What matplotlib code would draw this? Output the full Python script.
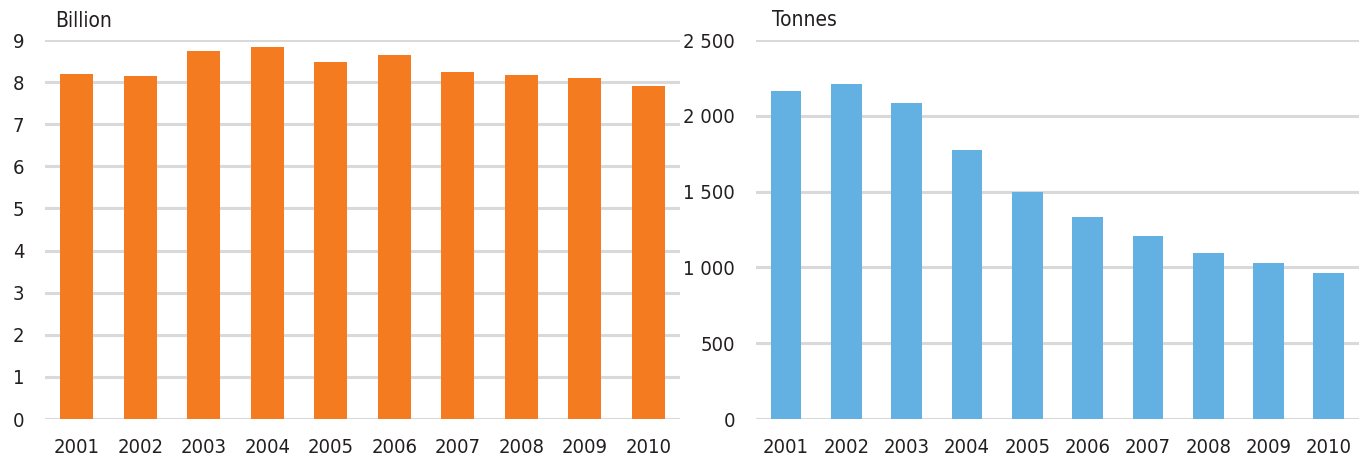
import matplotlib
matplotlib.use('Agg')
import matplotlib.pyplot as plt
from matplotlib.ticker import FuncFormatter

plt.rcParams['font.family'] = ['DejaVu Sans']
plt.rcParams['font.stretch'] = 'condensed'

years = ['2001', '2002', '2003', '2004', '2005', '2006', '2007', '2008', '2009', '2010']
billion = [8.20, 8.15, 8.74, 8.84, 8.48, 8.65, 8.24, 8.17, 8.10, 7.91]
tonnes = [2163, 2209, 2084, 1774, 1498, 1333, 1208, 1097, 1031, 965]

orange = '#f47b20'
blue = '#63b1e2'
grid_col = '#d9d9d9'
txt = '#231f20'

fig = plt.figure(figsize=(13.69, 4.59), dpi=100)
ax1 = fig.add_axes([0.0329, 0.0871, 0.4638, 0.8257])
ax2 = fig.add_axes([0.5522, 0.0871, 0.4405, 0.8257])


def style(ax):
    for s in ax.spines.values():
        s.set_visible(False)
    ax.set_axisbelow(True)
    ax.yaxis.grid(True, color=grid_col, linewidth=2.2)
    ax.tick_params(length=0, labelsize=14.5, colors=txt)
    ax.tick_params(axis='y', pad=15)
    ax.tick_params(axis='x', pad=14)
    ax.set_xlim(-0.5, len(years) - 0.5)


x = range(len(years))
ax1.bar(x, billion, width=0.52, color=orange)
ax1.set_ylim(0, 9)
ax1.set_yticks(range(0, 10))
ax1.set_xticks(list(x))
ax1.set_xticklabels(years)
style(ax1)
ax1.text(0.0157, 1.034, 'Billion', transform=ax1.transAxes, fontsize=15,
         color=txt, ha='left', va='baseline')

ax2.bar(x, tonnes, width=0.51, color=blue)
ax2.set_ylim(0, 2500)
ax2.set_yticks(range(0, 2501, 500))
ax2.yaxis.set_major_formatter(FuncFormatter(lambda v, p: f'{int(v):,}'.replace(',', ' ')))
ax2.set_xticks(list(x))
ax2.set_xticklabels(years)
style(ax2)
ax2.text(0.0265, 1.037, 'Tonnes', transform=ax2.transAxes, fontsize=15,
         color=txt, ha='left', va='baseline')

fig.savefig('out.png', dpi=100)
